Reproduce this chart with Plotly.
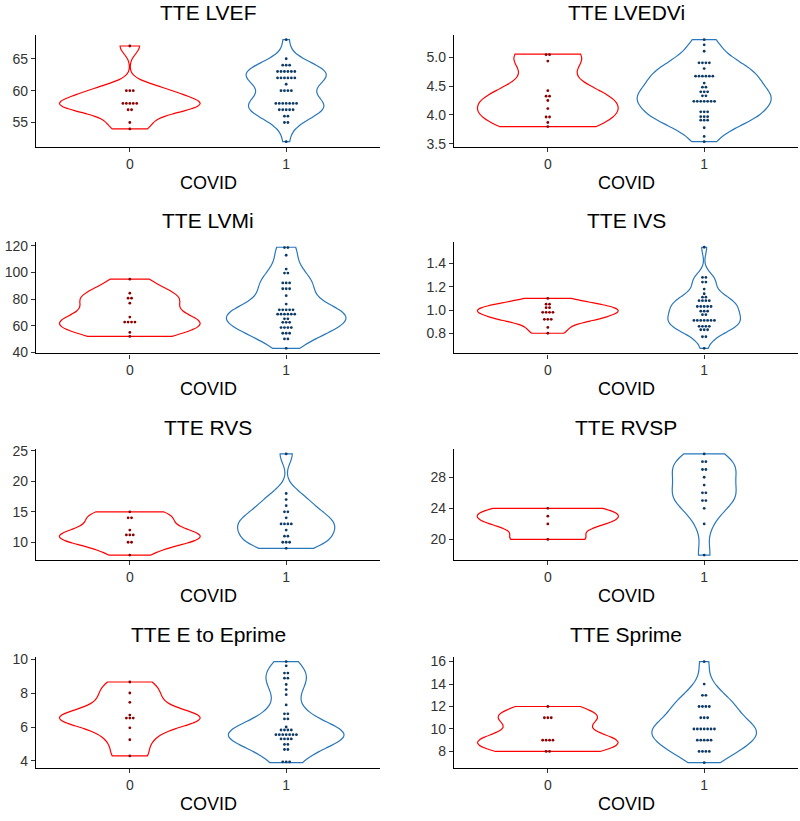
import numpy as np
import plotly.graph_objects as go

# ---------------- data ----------------
titles = ["TTE LVEF", "TTE LVEDVi", "TTE LVMi", "TTE IVS",
          "TTE RVS", "TTE RVSP", "TTE E to Eprime", "TTE Sprime"]
group_labels = ["0", "1"]
axis_title = "COVID"

lvef_0 = [67, 60, 60, 60, 58, 58, 58, 58, 58, 57, 57, 55, 54]
lvef_1 = [68, 65, 64, 64, 64, 63, 63, 63, 63, 63, 63, 62, 62, 62, 62, 62, 62, 61,
          60, 60, 60, 60, 58, 58, 58, 58, 58, 58, 58, 57, 57, 57, 57, 57, 56, 56,
          55, 55, 52]

lvedvi_0 = [5.05, 5.03, 4.93, 4.42, 4.33, 4.32, 4.25, 4.11, 3.97, 3.96, 3.87, 3.80]
lvedvi_1 = [5.30, 5.21, 5.10, 4.92, 4.88, 4.88, 4.88, 4.80, 4.68, 4.66, 4.66, 4.66,
            4.66, 4.66, 4.55, 4.48, 4.48, 4.40, 4.40, 4.40, 4.33, 4.33, 4.26, 4.26,
            4.26, 4.26, 4.21, 4.21, 4.21, 4.08, 4.03, 4.03, 3.97, 3.97, 3.97, 3.91,
            3.91, 3.91, 3.78, 3.63, 3.54]

lvmi_0 = [95, 84.5, 81, 80.5, 77, 66.5, 64, 61.5, 61.5, 61.5, 55, 52]
lvmi_1 = [119, 118.5, 113, 102.6, 99.6, 99.6, 93.4, 90.9, 90.9, 87.8, 87.8, 87.8,
          82.6, 76.3, 72, 72, 72, 72, 72, 68.7, 68.7, 68.7, 68.7, 68.7, 68.7,
          65.2, 65.2, 62.6, 62.6, 62.6, 58.6, 58.6, 58.6, 58.6, 55.6, 55.6, 53.1,
          50.1, 50.1, 43]

ivs_0 = [1.10, 1.05, 1.05, 1.02, 1.02, 0.99, 0.99, 0.97, 0.97, 0.92, 0.92, 0.92,
         0.85, 0.80]
ivs_1 = [1.54, 1.28, 1.28, 1.24, 1.24, 1.18, 1.14, 1.11, 1.11, 1.08, 1.08, 1.08,
         1.08, 1.04, 1.04, 1.02, 1.02, 1.02, 0.99, 0.99, 0.99, 0.96, 0.96, 0.92,
         0.92, 0.92, 0.92, 0.92, 0.90, 0.90, 0.86, 0.86, 0.86, 0.86, 0.83, 0.83,
         0.83, 0.77, 0.77, 0.67]

rvs_0 = [15, 14, 14, 12, 11.4, 11, 11, 10, 10, 7.9]
rvs_1 = [24.5, 18, 17, 16, 15, 15, 14, 13, 13, 13, 13, 12, 11, 11, 10, 10, 10, 9]

rvsp_0 = [24, 23, 22, 20]
rvsp_1 = [31, 30, 30, 29, 29, 28, 27, 26, 26, 25, 25, 24, 22, 18]

ee_0 = [8.65, 8.0, 7.45, 6.7, 6.55, 6.55, 6.5, 5.95, 5.25, 4.3]
ee_1 = [9.85, 9.6, 9.2, 9.15, 8.9, 8.85, 8.5, 8.2, 7.9, 7.3, 6.8, 6.75, 6.5, 6.45,
        6.0, 5.85, 5.85, 5.8, 5.8, 5.55, 5.55, 5.55, 5.55, 5.55, 5.55, 5.55, 5.3,
        5.3, 5.3, 5.3, 5.0, 4.95, 4.7, 4.65, 4.0, 4.0, 3.9]

sp_0 = [12, 11, 11, 11, 9, 9, 9, 9, 8, 8]
sp_1 = [16, 14, 13, 13, 12, 12, 12, 12, 11, 11, 11, 10, 10, 10, 10, 10, 10, 10,
        9, 9, 9, 9, 9, 8, 8, 8, 8, 7]

group0 = [lvef_0, lvedvi_0, lvmi_0, ivs_0, rvs_0, rvsp_0, ee_0, sp_0]
group1 = [lvef_1, lvedvi_1, lvmi_1, ivs_1, rvs_1, rvsp_1, ee_1, sp_1]

ytick_vals = [[55, 60, 65], [3.5, 4.0, 4.5, 5.0], [40, 60, 80, 100, 120],
              [0.8, 1.0, 1.2, 1.4], [10, 15, 20, 25], [20, 24, 28],
              [4, 6, 8, 10], [8, 10, 12, 14, 16]]
ytick_fmt = ["d", ".1f", "d", ".1f", "d", "d", "d", "d"]

# ---------------- style / layout ----------------
W, H = 800, 821
FONT = "Liberation Sans, Arial, sans-serif"
line_cols = ["#FF0000", "#2A78BC"]
dot_cols = ["#8B0000", "#0D3B66"]
col_px = [(36, 380), (454, 798)]
row_px = [(29, 143), (240, 353), (450, 563), (661, 774)]
XR = (-0.6, 1.6)


def nrd0(v):
    v = np.asarray(v, float)
    sd = np.std(v, ddof=1)
    iqr = np.subtract(*np.percentile(v, [75, 25]))
    lo = min(sd, iqr / 1.34)
    if lo <= 0:
        lo = sd if sd > 0 else (abs(v[0]) if v[0] != 0 else 1.0)
    return 0.9 * lo * len(v) ** -0.2


def max_density(v, bw):
    v = np.asarray(v, float)
    g = np.linspace(v.min(), v.max(), 512)
    d = np.exp(-0.5 * ((g[:, None] - v[None, :]) / bw) ** 2).sum(1)
    return (d / (len(v) * bw * np.sqrt(2 * np.pi))).max()


def dot_layout(vals, binwidth, center, spacing):
    s = sorted(vals)
    xs, ys = [], []
    i = 0
    while i < len(s):
        j = i
        while j + 1 < len(s) and s[j + 1] < s[i] + binwidth:
            j += 1
        b = s[i:j + 1]
        yc = (b[0] + b[-1]) / 2
        k = len(b)
        for m in range(k):
            xs.append(center + (m - (k - 1) / 2) * spacing)
            ys.append(yc)
        i = j + 1
    return xs, ys


fig = go.Figure()
layout = {}
annotations = []

for p in range(8):
    r, c = divmod(p, 2)
    ax = "" if p == 0 else str(p + 1)
    xa, ya = "x" + ax, "y" + ax
    x0px, x1px = col_px[c]
    t_px, b_px = row_px[r]
    g0, g1 = group0[p], group1[p]
    allv = np.array(g0 + g1, float)
    lo, hi = allv.min(), allv.max()
    pad = 0.05 * (hi - lo)
    yr = (lo - pad, hi + pad)

    bws = [nrd0(g0), nrd0(g1)]
    mds = [max_density(g0, bws[0]), max_density(g1, bws[1])]
    mmax = max(mds)
    binwidth = (hi - lo) / 30
    bin_px = binwidth * (b_px - t_px) / (yr[1] - yr[0])
    spacing = bin_px / ((x1px - x0px) / (XR[1] - XR[0]))

    for gi, vals in enumerate([g0, g1]):
        fig.add_trace(go.Violin(
            x0=gi, y=vals, xaxis=xa, yaxis=ya, orientation="v",
            bandwidth=bws[gi], spanmode="hard", width=0.9 * mds[gi] / mmax,
            scalemode="width", scalegroup=f"p{p}g{gi}", side="both",
            points=False, box_visible=False, meanline_visible=False,
            line=dict(color=line_cols[gi], width=1.2),
            fillcolor="rgba(0,0,0,0)", hoverinfo="skip", showlegend=False))
    for gi, vals in enumerate([g0, g1]):
        xs, ys = dot_layout(vals, binwidth, gi, spacing)
        fig.add_trace(go.Scatter(
            x=xs, y=ys, xaxis=xa, yaxis=ya, mode="markers",
            marker=dict(color=dot_cols[gi], size=2.8, line=dict(width=0)),
            hoverinfo="skip", showlegend=False))

    xdom = [x0px / W, x1px / W]
    ydom = [1 - b_px / H, 1 - t_px / H]
    layout["xaxis" + ax] = dict(
        domain=xdom, anchor=ya, range=list(XR), tickvals=[0, 1],
        ticktext=group_labels, showline=True, linecolor="black", linewidth=1.3,
        ticks="outside", ticklen=4, tickwidth=1.3, tickcolor="#333333",
        showgrid=False, zeroline=False,
        tickfont=dict(family=FONT, size=14, color="#333333"))
    layout["yaxis" + ax] = dict(
        domain=ydom, anchor=xa, range=list(yr), tickvals=ytick_vals[p],
        tickformat=ytick_fmt[p], showline=True, linecolor="black",
        linewidth=1.3, ticks="outside", ticklen=4, tickwidth=1.3,
        tickcolor="#333333", showgrid=False, zeroline=False,
        tickfont=dict(family=FONT, size=14, color="#333333"))

    cx = (x0px + x1px) / 2 / W
    annotations.append(dict(
        text=titles[p], x=cx, y=1 - (t_px - 22) / H, xref="paper",
        yref="paper", xanchor="center", yanchor="middle", showarrow=False,
        font=dict(family=FONT, size=21, color="black")))
    annotations.append(dict(
        text=axis_title, x=cx, y=1 - (b_px + 36.5) / H, xref="paper",
        yref="paper", xanchor="center", yanchor="middle", showarrow=False,
        font=dict(family=FONT, size=18, color="black")))

fig.update_layout(
    width=W, height=H, margin=dict(l=0, r=0, t=0, b=0),
    paper_bgcolor="white", plot_bgcolor="white", violinmode="overlay",
    showlegend=False, annotations=annotations, **layout)

fig.write_html("out.html")
